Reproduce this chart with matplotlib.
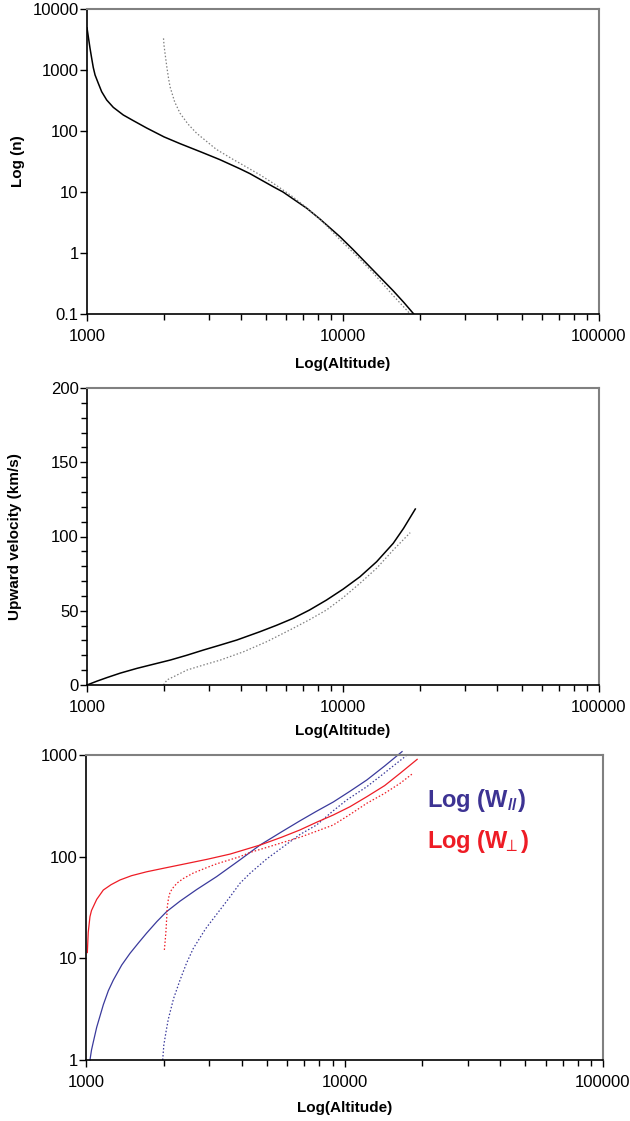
import numpy as np
import matplotlib
matplotlib.use("Agg")
import matplotlib.pyplot as plt
from matplotlib.ticker import FixedLocator, NullFormatter, NullLocator, MultipleLocator

plt.rcParams["font.family"] = ["Liberation Sans", "DejaVu Sans"]
plt.rcParams["mathtext.fontset"] = "custom"
plt.rcParams["mathtext.rm"] = "Liberation Sans:bold"
plt.rcParams["mathtext.it"] = "Liberation Sans:bold:italic"
plt.rcParams["mathtext.bf"] = "Liberation Sans:bold"

# --- panel 1: density vs altitude ---
n_alt_solid = [1000, 1012, 1027, 1043, 1058, 1075, 1107, 1141, 1194, 1267,
               1386, 1516, 1710, 2000, 2310, 2800, 3300, 3960, 4330, 5340,
               5830, 7225, 8130, 9730, 10900, 13130, 15710, 17300, 18900]
n_solid = [4900, 3500, 2300, 1555, 1100, 830, 605, 441, 322, 244,
           183, 148, 112, 80, 62, 45, 34, 24, 20.0, 12.2,
           10.0, 5.4, 3.6, 1.85, 1.16, 0.52, 0.24, 0.154, 0.1]
n_alt_dot = [1990, 2000, 2020, 2050, 2080, 2110, 2200, 2310, 2480, 2680,
             3200, 3730, 3960, 4700, 5340, 6300, 7225, 8500, 9730, 11300,
             13130, 15710, 17000, 18300]
n_dot = [3300, 2500, 1800, 1130, 750, 533, 300, 195, 130, 92,
         50, 34, 29.5, 19.5, 13.9, 8.6, 5.5, 3.0, 1.65, 0.9,
         0.47, 0.2, 0.14, 0.1]

# --- panel 2: upward velocity ---
v_alt_solid = [1000, 1094, 1197, 1349, 1567, 1800, 2115, 2450, 2856, 3300,
               3850, 4740, 5500, 6390, 7400, 8620, 10000, 11650, 13530, 15710,
               17240, 19160]
v_solid = [0, 2.6, 5.0, 8.0, 11.2, 13.8, 16.8, 20.0, 23.6, 26.8,
           30.3, 35.9, 40.2, 44.9, 50.5, 57.2, 64.5, 72.9, 83.0, 95.4,
           105.5, 118.5]
v_alt_dot = [1990, 2053, 2180, 2460, 2856, 3320, 4090, 5040, 6390, 7400,
             8620, 10000, 11650, 13530, 15710, 17240, 18300]
v_dot = [0, 3.4, 5.6, 10.1, 13.5, 16.8, 22.4, 29.2, 38.2, 44.0,
         50.5, 58.8, 68.5, 78.6, 90.9, 98.0, 102.6]

# --- panel 3: W_par (blue) and W_perp (red) ---
wpar_alt = [1036, 1050, 1067, 1100, 1167, 1220, 1275, 1375, 1480, 1600,
            1716, 1880, 2050, 2310, 2680, 3200, 3940, 4710, 5700, 6720,
            7800, 9050, 10500, 12200, 14300, 16700]
wpar = [1, 1.25, 1.5, 2.1, 3.5, 4.8, 6.1, 8.6, 11.2, 14.3,
        17.7, 23, 28.8, 36.5, 47.5, 63.6, 93, 130, 175, 225,
        280, 345, 440, 568, 780, 1080]
wpar_alt_dot = [1980, 2000, 2040, 2080, 2180, 2310, 2450, 2600, 2900, 3250,
                3600, 3940, 4310, 5000, 5790, 6720, 7800, 9050, 10200, 12200,
                14000, 15900, 17300]
wpar_dot = [1, 1.4, 1.9, 2.5, 4.0, 6.1, 9.0, 12.5, 19.5, 28.5,
            40, 54.7, 68.6, 95, 125, 165, 205, 283, 361, 488,
            640, 828, 980]
wperp_alt = [1012, 1020, 1036, 1050, 1067, 1100, 1167, 1250, 1354, 1500,
             1716, 2000, 2310, 2930, 3607, 4710, 5700, 6720, 7800, 9050,
             10500, 12200, 14300, 16400, 19100]
wperp = [11.4, 18, 25.7, 29.5, 32.2, 38, 47, 53, 59, 65,
         71, 77, 83, 94, 106, 130, 155, 183, 218, 257,
         310, 389, 500, 660, 906]
wperp_alt_dot = [2010, 2025, 2040, 2063, 2085, 2110, 2150, 2250, 2380, 2600,
                 2930, 3200, 3940, 4310, 5200, 6150, 6720, 7800, 9050, 10500,
                 12200, 14300, 16400, 18400]
wperp_dot = [12.1, 15, 19, 32, 39, 43.7, 48, 55, 61, 69,
             78, 85, 100, 110, 127, 145, 155, 178, 205, 260,
             335, 420, 526, 660]

BLUE = "#3a3a9c"
RED = "#ee1c25"
DOT = (0, (1.2, 1.6))

fig = plt.figure(figsize=(6.3, 11.21), dpi=100)
ax1 = fig.add_axes([87 / 630, 1 - 314 / 1121, 512 / 630, 305 / 1121])
ax2 = fig.add_axes([87 / 630, 1 - 685 / 1121, 512 / 630, 297 / 1121])
ax3 = fig.add_axes([86 / 630, 1 - 1060 / 1121, 517 / 630, 305 / 1121])


def style(ax, xlab_y):
    ax.set_xscale("log")
    ax.set_xlim(1000, 100000)
    ax.xaxis.set_major_locator(FixedLocator([1000, 10000, 100000]))
    ax.xaxis.set_major_formatter(plt.FuncFormatter(lambda v, p: f"{v:.0f}"))
    minors = [m * d for d in (1000, 10000) for m in range(2, 10)]
    ax.xaxis.set_minor_locator(FixedLocator(minors))
    ax.xaxis.set_minor_formatter(NullFormatter())
    for s in ("left", "bottom"):
        ax.spines[s].set_color("black")
        ax.spines[s].set_linewidth(1.2)
    for s in ("top", "right"):
        ax.spines[s].set_color("#808080")
        ax.spines[s].set_linewidth(1.5)
    ax.tick_params(which="major", direction="out", length=5, width=1,
                   labelsize=12)
    ax.tick_params(axis="x", which="major", pad=6)
    ax.tick_params(axis="y", which="major", pad=1)
    ax.tick_params(which="minor", direction="out", length=4, width=1)
    ax.set_xlabel("Log(Altitude)", fontsize=11, fontweight="bold", va="center")
    ax.xaxis.set_label_coords(0.5, xlab_y)


# panel 1
ax1.plot(n_alt_solid, n_solid, color="black", lw=1.1)
ax1.plot(n_alt_dot, n_dot, color="#808080", lw=0.9, ls=DOT)
ax1.set_yscale("log")
ax1.set_ylim(0.1, 10000)
ax1.yaxis.set_major_locator(FixedLocator([0.1, 1, 10, 100, 1000, 10000]))
ax1.yaxis.set_major_formatter(plt.FuncFormatter(lambda v, p: f"{v:g}"))
ax1.yaxis.set_minor_locator(NullLocator())
style(ax1, -0.164)
ax1.set_ylabel("Log (n)", fontsize=11, fontweight="bold", va="center", ha="center")
ax1.yaxis.set_label_coords(-0.135, 0.5)

# panel 2
ax2.plot(v_alt_solid, v_solid, color="black", lw=1.1)
ax2.plot(v_alt_dot, v_dot, color="#808080", lw=0.9, ls=DOT)
ax2.set_ylim(0, 200)
ax2.yaxis.set_major_locator(MultipleLocator(50))
ax2.yaxis.set_minor_locator(MultipleLocator(10))
style(ax2, -0.155)
ax2.set_ylabel("Upward velocity (km/s)", fontsize=11, fontweight="bold",
               va="center", ha="center")
ax2.yaxis.set_label_coords(-0.141, 0.5)

# panel 3
ax3.plot(wpar_alt, wpar, color=BLUE, lw=0.9, clip_on=False)
ax3.plot(wpar_alt_dot, wpar_dot, color=BLUE, lw=0.9, ls=DOT)
ax3.plot(wperp_alt, wperp, color=RED, lw=0.9)
ax3.plot(wperp_alt_dot, wperp_dot, color=RED, lw=0.9, ls=DOT)
ax3.set_yscale("log")
ax3.set_ylim(1, 1000)
ax3.yaxis.set_major_locator(FixedLocator([1, 10, 100, 1000]))
ax3.yaxis.set_major_formatter(plt.FuncFormatter(lambda v, p: f"{v:g}"))
ax3.yaxis.set_minor_locator(NullLocator())
style(ax3, -0.157)
ax3.text(0.66, 0.852, r"Log (W$_{//}$)", transform=ax3.transAxes,
         color="#3d3393", fontsize=17, fontweight="bold", va="center")
ax3.text(0.66, 0.715, r"Log (W$_{\!\!\perp}$)", transform=ax3.transAxes,
         color=RED, fontsize=17, fontweight="bold", va="center")

fig.savefig("out.png", dpi=100)
